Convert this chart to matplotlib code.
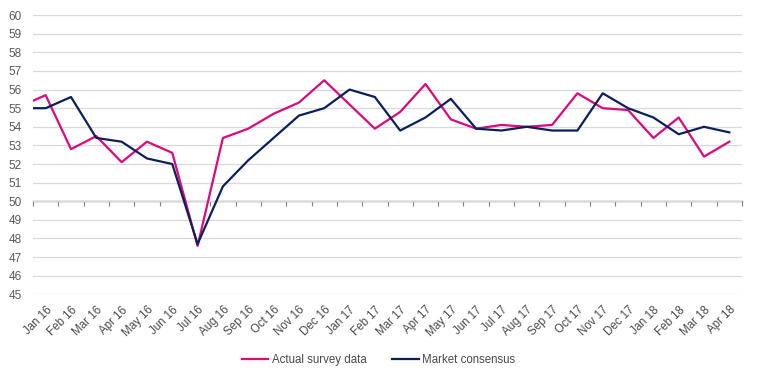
import matplotlib
matplotlib.use("Agg")
import matplotlib.pyplot as plt

plt.rcParams['font.family'] = ['Liberation Sans', 'DejaVu Sans']

months = ['Jan 16', 'Feb 16', 'Mar 16', 'Apr 16', 'May 16', 'Jun 16', 'Jul 16',
          'Aug 16', 'Sep 16', 'Oct 16', 'Nov 16', 'Dec 16', 'Jan 17', 'Feb 17',
          'Mar 17', 'Apr 17', 'May 17', 'Jun 17', 'Jul 17', 'Aug 17', 'Sep 17',
          'Oct 17', 'Nov 17', 'Dec 17', 'Jan 18', 'Feb 18', 'Mar 18', 'Apr 18']

# series start at the left edge of the first month, then one point per month
x_points = [-0.5] + list(range(len(months)))

actual = [55.4, 55.7, 52.8, 53.5, 52.1, 53.2, 52.6, 47.6, 53.4, 53.9, 54.7,
          55.3, 56.5, 55.2, 53.9, 54.8, 56.3, 54.4, 53.9, 54.1, 54.0, 54.1,
          55.8, 55.0, 54.9, 53.4, 54.5, 52.4, 53.2]
consensus = [55.0, 55.0, 55.6, 53.4, 53.2, 52.3, 52.0, 47.7, 50.8, 52.2, 53.4,
             54.6, 55.0, 56.0, 55.6, 53.8, 54.5, 55.5, 53.9, 53.8, 54.0, 53.8,
             53.8, 55.8, 55.0, 54.5, 53.6, 54.0, 53.7]

magenta = '#dc0a7c'
navy = '#0b1f5e'
text_col = '#595959'

fig = plt.figure(figsize=(7.57, 3.78), dpi=100)
ax = fig.add_axes([0.0436, 0.2214, 0.9366, 0.7386])

ax.plot(x_points, actual, color=magenta, lw=1.6, label='Actual survey data')
ax.plot(x_points, consensus, color=navy, lw=1.6, label='Market consensus')

ax.set_xlim(-0.5, len(months) - 0.5)
ax.set_ylim(45, 60)
ax.set_yticks(range(45, 61))
ax.grid(axis='y', color='#d9d9d9', lw=0.9)
ax.set_axisbelow(True)
for s in ax.spines.values():
    s.set_visible(False)

ax.tick_params(axis='y', length=0, labelsize=8.5, labelcolor=text_col, pad=8)
ax.set_xticks(range(len(months)))
ax.set_xticklabels(months, rotation=45, ha='right', rotation_mode='anchor')
ax.tick_params(axis='x', length=0, labelsize=8.3, labelcolor='#4a4a4a', pad=7)

# category axis crossing at 50, tick marks between months
sec = ax.secondary_xaxis((50 - 45) / 15)
sec.set_xticks([i - 0.5 for i in range(len(months) + 1)])
sec.set_xticklabels([])
sec.tick_params(axis='x', length=3.5, width=0.8, color='#808080')
sec.spines['bottom'].set_color('#808080')
sec.spines['bottom'].set_linewidth(1.0)

leg = fig.legend(loc='lower center', bbox_to_anchor=(0.5, 0.005), ncol=2,
                 frameon=False, fontsize=8.3, handlelength=2.3,
                 handletextpad=0.3, columnspacing=2.2)
for t in leg.get_texts():
    t.set_color('#4a4a4a')

fig.savefig('out.png', dpi=100)
